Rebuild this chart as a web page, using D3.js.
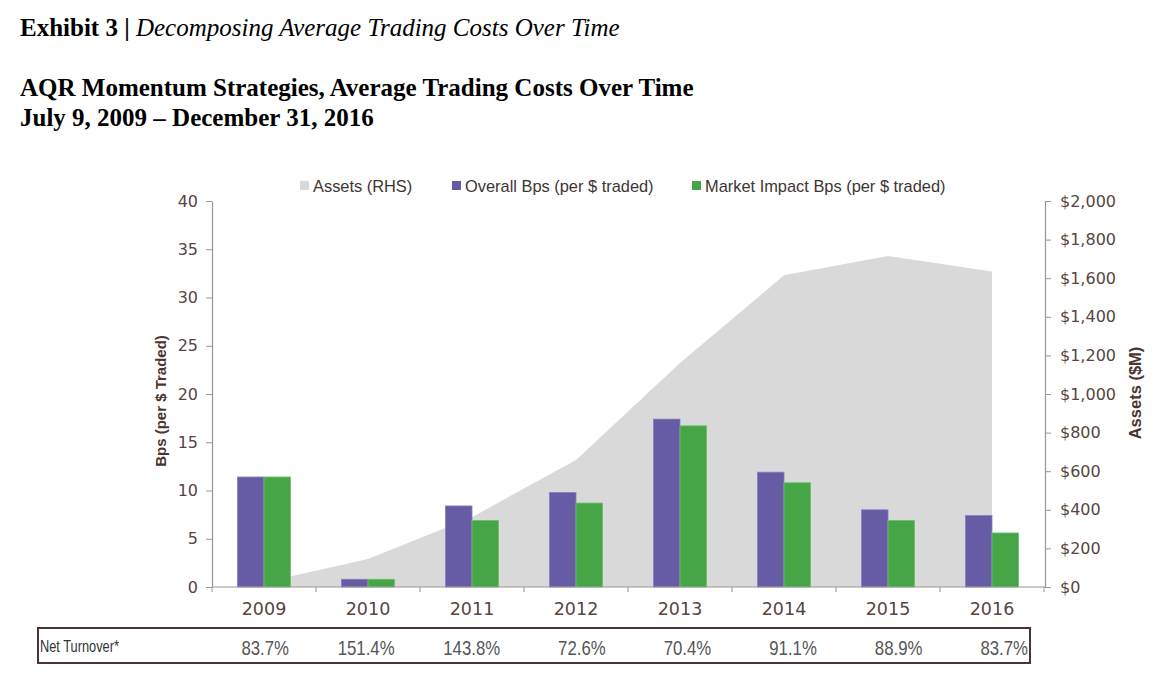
<!DOCTYPE html>
<html>
<head>
<meta charset="utf-8">
<script src="https://cdn.jsdelivr.net/npm/d3@7"></script>
<style>
  html, body { margin: 0; padding: 0; background: #fff; }
  svg { display: block; }
</style>
</head>
<body>
<svg id="chart" width="1166" height="686"></svg>
<script>
// ---- data ----
const years = ["2009", "2010", "2011", "2012", "2013", "2014", "2015", "2016"];
const overallBps = [11.4, 0.8, 8.4, 9.8, 17.4, 11.9, 8.0, 7.4];
const marketImpactBps = [11.4, 0.8, 6.9, 8.7, 16.7, 10.8, 6.9, 5.6];
const assets = [25, 145, 362, 658, 1160, 1615, 1715, 1635];
const netTurnover = ["83.7%", "151.4%", "143.8%", "72.6%", "70.4%", "91.1%", "88.9%", "83.7%"];
const leftTicks = [0, 5, 10, 15, 20, 25, 30, 35, 40];
const rightTicks = [0, 200, 400, 600, 800, 1000, 1200, 1400, 1600, 1800, 2000];
const seriesKeys = ["overall", "impact"];
const seriesNames = ["Overall Bps (per $ traded)", "Market Impact Bps (per $ traded)"];

const colors = { assets: "#d9d9d9", overall: "#665ca6", impact: "#46a546" };
const strokes = { overall: "#8580bd", impact: "#6cc06c" };
const axisColor = "#9c9593";
const textColor = "#584540";

const svg = d3.select("#chart");

// ---- titles ----
const serif = "'Liberation Serif', 'Times New Roman', serif";
const t1 = svg.append("text").attr("x", 20).attr("y", 36)
  .style("font-family", serif).style("font-size", "25px").attr("fill", "#000");
t1.append("tspan").style("font-weight", "bold").text("Exhibit 3 | ");
t1.append("tspan").style("font-style", "italic").text("Decomposing Average Trading Costs Over Time");

svg.append("text").attr("x", 20).attr("y", 96)
  .style("font-family", serif).style("font-size", "25px").style("font-weight", "bold").attr("fill", "#000")
  .text("AQR Momentum Strategies, Average Trading Costs Over Time");
svg.append("text").attr("x", 20).attr("y", 126)
  .style("font-family", serif).style("font-size", "25px").style("font-weight", "bold").attr("fill", "#000")
  .text("July 9, 2009 \u2013 December 31, 2016");

// ---- scales ----
const x = d3.scaleBand().domain(years).range([212, 1044]).padding(0);
const x1 = d3.scaleBand().domain(seriesKeys).range([0, x.bandwidth()]).paddingInner(0).paddingOuter(0.96);
const yL = d3.scaleLinear().domain([0, 40]).range([587, 201]);
const yR = d3.scaleLinear().domain([0, 2000]).range([587, 201]);

// ---- assets area ----
const area = d3.area()
  .x((d, i) => x(years[i]) + x.bandwidth() / 2)
  .y0(yR(0))
  .y1(d => yR(d));
svg.append("path").datum(assets).attr("d", area).attr("fill", colors.assets);

// ---- bars ----
const rows = years.map((y, i) => ({ year: y, overall: overallBps[i], impact: marketImpactBps[i] }));
const g = svg.append("g");
rows.forEach(r => {
  seriesKeys.forEach(k => {
    g.append("rect")
      .attr("x", x(r.year) + x1(k))
      .attr("y", yL(r[k]))
      .attr("width", x1.bandwidth())
      .attr("height", yL(0) - yL(r[k]))
      .attr("fill", colors[k])
      .attr("stroke", strokes[k])
      .attr("stroke-width", 0.8);
  });
});

// ---- axes ----
const font = "'Liberation Sans', Arial, sans-serif";
const tickFont = "'DejaVu Sans', sans-serif";
const leftAxis = svg.append("g").attr("transform", "translate(212,0)")
  .call(d3.axisLeft(yL).tickValues(leftTicks).tickSize(6).tickSizeOuter(0).tickPadding(8));
const rightAxis = svg.append("g").attr("transform", "translate(1045,0)")
  .call(d3.axisRight(yR).tickValues(rightTicks).tickSize(6).tickSizeOuter(0).tickPadding(9)
    .tickFormat(d => "$" + d3.format(",")(d)));
const bottomAxis = svg.append("g").attr("transform", "translate(0,587)")
  .call(d3.axisBottom(x).tickSize(0).tickPadding(16));
bottomAxis.select(".domain").attr("d", "M212,0H1045");
// band boundary ticks
bottomAxis.selectAll(".bt").data(years.concat(["end"])).enter().append("line")
  .attr("class", "bt")
  .attr("x1", (d, i) => i < years.length ? x(d) : x.range()[1])
  .attr("x2", (d, i) => i < years.length ? x(d) : x.range()[1])
  .attr("y1", 0).attr("y2", 5)
  .attr("stroke", axisColor);

[leftAxis, rightAxis, bottomAxis].forEach(a => {
  a.selectAll(".domain").attr("stroke", axisColor).attr("stroke-width", 1.2);
  a.selectAll(".tick line").attr("stroke", axisColor);
  a.selectAll(".tick text").attr("fill", textColor).style("font-family", tickFont).style("font-size", "16px");
});
bottomAxis.selectAll(".tick text").style("font-size", "17.5px");

// axis titles
svg.append("text")
  .attr("transform", "translate(166,401) rotate(-90)")
  .attr("text-anchor", "middle")
  .style("font-family", font).style("font-size", "15px").style("font-weight", "bold")
  .attr("fill", "#4a3530")
  .text("Bps (per $ Traded)");
svg.append("text")
  .attr("transform", "translate(1141,393) rotate(-90)")
  .attr("text-anchor", "middle")
  .style("font-family", font).style("font-size", "16.5px").style("font-weight", "bold")
  .attr("fill", "#4a3530")
  .text("Assets ($M)");

// ---- legend ----
const legendItems = [
  { name: "Assets (RHS)", color: colors.assets, x: 300 },
  { name: seriesNames[0], color: colors.overall, x: 452 },
  { name: seriesNames[1], color: colors.impact, x: 692 }
];
const lg = svg.append("g");
legendItems.forEach(it => {
  lg.append("rect").attr("x", it.x).attr("y", 181).attr("width", 9).attr("height", 9).attr("fill", it.color);
  lg.append("text").attr("x", it.x + 13).attr("y", 192)
    .style("font-family", font).style("font-size", "16.4px").attr("fill", "#3d3533")
    .text(it.name);
});

// ---- table ----
svg.append("rect").attr("x", 38).attr("y", 628).attr("width", 992).attr("height", 35)
  .attr("fill", "none").attr("stroke", "#4a3434").attr("stroke-width", 2);
const narrow = "'Liberation Sans Narrow', 'Arial Narrow', 'Liberation Sans', sans-serif";
svg.append("g").attr("transform", "translate(40,652) scale(0.8,1)")
  .append("text")
  .style("font-family", narrow).style("font-size", "16px").attr("fill", "#333")
  .text("Net Turnover*");
const xt = d3.scalePoint().domain(years).range([289, 1028]);
svg.append("g").selectAll("g").data(netTurnover).enter().append("g")
  .attr("transform", (d, i) => `translate(${xt(years[i])},655) scale(0.84,1)`)
  .append("text")
  .attr("text-anchor", "end")
  .style("font-family", narrow).style("font-size", "20px").attr("fill", "#555")
  .text(d => d);
</script>
</body>
</html>
